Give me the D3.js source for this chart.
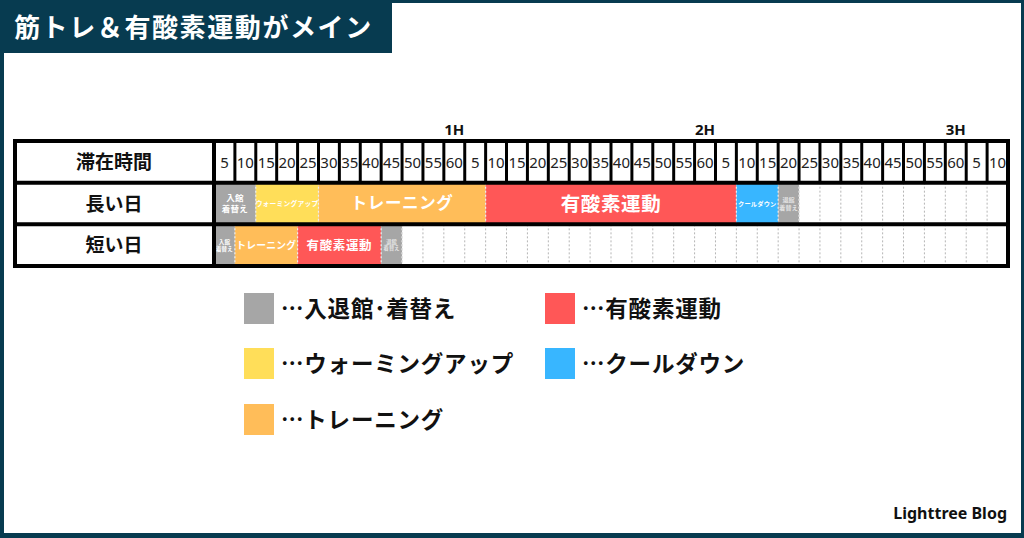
<!DOCTYPE html>
<html>
<head>
<meta charset="utf-8">
<script src="https://cdn.jsdelivr.net/npm/d3@7"></script>
<style>
  body { margin: 0; background: #fff; }
  svg { display: block; font-family: "Noto Sans CJK JP", "Noto Sans", sans-serif; }
</style>
</head>
<body>
<svg id="chart"></svg>
<script>
const width = 1024;
const height = 538;
const navy = '#073b50';

// tick labels along the top (one per 5-minute column)
const tickLabels = ['5','10','15','20','25','30','35','40','45','50','55','60',
                    '5','10','15','20','25','30','35','40','45','50','55','60',
                    '5','10','15','20','25','30','35','40','45','50','55','60',
                    '5','10'];
const hourLabels = ['1H','2H','3H'];
const hourMinutes = [60,120,180];
const rowLabels = ['滞在時間','長い日','短い日'];

// phases (categories) and their colours
const categories = ['入退館･着替え','有酸素運動','ウォーミングアップ','クールダウン','トレーニング'];
const catColors = ['#a6a6a6','#ff5757','#ffde59','#38b6ff','#ffbd59'];

// long day schedule (minutes)
const longPhase = ['入退館･着替え','ウォーミングアップ','トレーニング','有酸素運動','クールダウン','入退館･着替え'];
const longLabel = ['入館\n着替え','ウォーミングアップ','トレーニング','有酸素運動','クールダウン','退館\n着替え'];
const longStart = [0,10,25,65,125,135];
const longEnd = [10,25,65,125,135,140];
const longFont = [8.5,6.8,16.5,19.5,6.2,6];

// short day schedule (minutes)
const shortPhase = ['入退館･着替え','トレーニング','有酸素運動','入退館･着替え'];
const shortLabel = ['入館\n着替え','トレーニング','有酸素運動','退館\n着替え'];
const shortStart = [0,5,20,40];
const shortEnd = [5,20,40,45];
const shortFont = [5.5,9.8,12.5,5.2];

const svg = d3.select('#chart').attr('width', width).attr('height', height);
const color = d3.scaleOrdinal().domain(categories).range(catColors);

// frame + title
svg.append('rect').attr('width', width).attr('height', height).attr('fill', navy);
svg.append('rect').attr('x', 4).attr('y', 3).attr('width', 1017).attr('height', 530).attr('fill', '#fff');
svg.append('rect').attr('x', 0).attr('y', 0).attr('width', 392).attr('height', 53).attr('fill', navy);
svg.append('text').attr('x', 14).attr('y', 37).attr('fill', '#fff')
  .attr('font-size', 26).attr('font-weight', 700).attr('letter-spacing', 1.6)
  .text('筋トレ＆有酸素運動がメイン');

// scales
const x = d3.scaleLinear().domain([0, 190]).range([214, 1008]);
const y = d3.scaleBand().domain(rowLabels).range([141, 266]);

const table = svg.append('g');

const bodyRows = [
  {row: '長い日', phase: longPhase, label: longLabel, start: longStart, end: longEnd, font: longFont},
  {row: '短い日', phase: shortPhase, label: shortLabel, start: shortStart, end: shortEnd, font: shortFont}
];
const minutes = d3.range(5, 190, 5);

bodyRows.forEach(r => {
  const g = table.append('g');
  // dashed column guides
  g.selectAll('line.guide').data(minutes).enter().append('line')
    .attr('x1', d => x(d)).attr('x2', d => x(d))
    .attr('y1', y(r.row)).attr('y2', y(r.row) + y.bandwidth())
    .attr('stroke', '#b5b5b5').attr('stroke-width', 1).attr('stroke-dasharray', '2,2');

  const segs = r.phase.map((p, i) => ({p, label: r.label[i], s: r.start[i], e: r.end[i], fs: r.font[i]}));
  g.selectAll('rect.seg').data(segs).enter().append('rect')
    .attr('x', d => x(d.s)).attr('width', d => x(d.e) - x(d.s))
    .attr('y', y(r.row)).attr('height', y.bandwidth())
    .attr('fill', d => color(d.p));
  g.selectAll('line.sep').data(segs).enter().append('line')
    .attr('x1', d => x(d.e)).attr('x2', d => x(d.e))
    .attr('y1', y(r.row)).attr('y2', y(r.row) + y.bandwidth())
    .attr('stroke', '#eee').attr('stroke-width', 1.2).attr('stroke-dasharray', '2,2');

  const cy = y(r.row) + y.bandwidth() / 2;
  segs.forEach(d => {
    const fs = d.fs;
    const faded = d.label.startsWith('退館');
    const cx = (x(d.s) + x(d.e)) / 2;
    const t = g.append('text').attr('text-anchor', 'middle').attr('font-size', fs).attr('font-weight', 700)
      .attr('letter-spacing', fs > 12 ? 0.6 : 0.2)
      .attr('fill', faded ? '#e4e4e4' : '#fff');
    const lines = d.label.split('\n');
    lines.forEach((l, i) => {
      t.append('tspan').attr('x', cx)
        .attr('y', cy + (i - (lines.length - 1) / 2) * fs * 1.3 + fs * 0.36)
        .text(l);
    });
  });
});

// header cells
const header = table.append('g');
header.selectAll('text.tick').data(tickLabels).enter().append('text')
  .attr('x', (d, i) => x(i * 5 + 2.5))
  .attr('y', y('滞在時間') + y.bandwidth() / 2 + 6)
  .attr('text-anchor', 'middle').attr('font-size', 15)
  .attr('font-family', '"Noto Sans", sans-serif').attr('fill', '#222')
  .text(d => d);
header.selectAll('line.cell').data(minutes).enter().append('line')
  .attr('x1', d => x(d)).attr('x2', d => x(d))
  .attr('y1', y('滞在時間')).attr('y2', y('滞在時間') + y.bandwidth())
  .attr('stroke', '#000').attr('stroke-width', 3);

// hour marks
svg.selectAll('text.hour').data(hourLabels).enter().append('text')
  .attr('x', (d, i) => x(hourMinutes[i] - 2.5)).attr('y', 135)
  .attr('text-anchor', 'middle').attr('font-size', 15).attr('font-weight', 700)
  .attr('font-family', '"Noto Sans", sans-serif').attr('fill', '#111')
  .text(d => d);

// row labels
table.selectAll('text.rowlabel').data(rowLabels).enter().append('text')
  .attr('x', 114).attr('y', d => y(d) + y.bandwidth() / 2 + 7)
  .attr('text-anchor', 'middle').attr('font-size', 19).attr('font-weight', 700).attr('fill', '#111')
  .text(d => d);

// grid borders
table.selectAll('line.rowsep').data(rowLabels.slice(1)).enter().append('line')
  .attr('x1', 15).attr('x2', 1008).attr('y1', d => y(d)).attr('y2', d => y(d))
  .attr('stroke', '#000').attr('stroke-width', 4);
table.append('line').attr('x1', x(0)).attr('x2', x(0)).attr('y1', 141).attr('y2', 266)
  .attr('stroke', '#000').attr('stroke-width', 4);
table.append('rect').attr('x', 15).attr('y', 141).attr('width', x(190) - 15).attr('height', 125)
  .attr('fill', 'none').attr('stroke', '#000').attr('stroke-width', 4);

// legend
const legX = [244, 545];
const legY = [293, 348, 404];
const legend = svg.append('g').selectAll('g').data(categories).enter().append('g')
  .attr('transform', (d, i) => `translate(${legX[i % 2]},${legY[Math.floor(i / 2)]})`);
legend.append('rect').attr('width', 30).attr('height', 31).attr('fill', d => color(d));
legend.append('text').attr('x', 37).attr('y', 24).attr('font-size', 22.5).attr('font-weight', 700)
  .attr('letter-spacing', 0.8).attr('fill', '#111').text(d => '…' + d);

// footer
svg.append('text').attr('x', 1007).attr('y', 519).attr('text-anchor', 'end')
  .attr('font-size', 16).attr('font-weight', 700).attr('font-family', '"Noto Sans", sans-serif')
  .attr('fill', '#111').text('Lighttree Blog');
</script>
</body>
</html>
